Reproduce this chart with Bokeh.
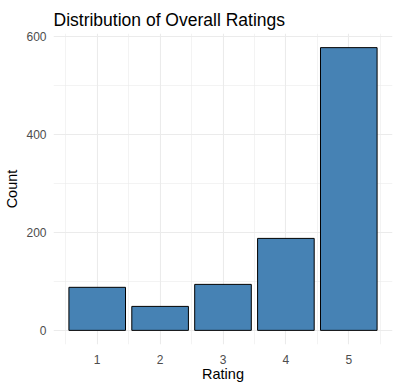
from bokeh.plotting import figure
from bokeh.models import Range1d, FixedTicker
from bokeh.embed import file_html
from bokeh.resources import INLINE

ratings = [1, 2, 3, 4, 5]
counts = [88, 49, 94, 188, 578]
x_ticks = [1, 2, 3, 4, 5]
x_minor = [0.5, 1.5, 2.5, 3.5, 4.5, 5.5]
y_ticks = [0, 200, 400, 600]
y_minor = [100, 300, 500]

bar_w = 0.9
xlo, xhi = min(ratings) - bar_w / 2, max(ratings) + bar_w / 2
xpad = (xhi - xlo) * 0.05
ylo, yhi = 0, max(counts)
ypad = (yhi - ylo) * 0.05

FONT = "Liberation Sans"

p = figure(width=400, height=388, output_backend="svg", toolbar_location=None,
           x_range=Range1d(xlo - xpad, xhi + xpad), y_range=Range1d(ylo - ypad, yhi + ypad),
           title="Distribution of Overall Ratings")
p.min_border_left = 53
p.min_border_right = 8
p.min_border_top = 33
p.min_border_bottom = 44
p.outline_line_color = None
p.background_fill_color = "white"
p.border_fill_color = "white"

p.title.text_font = FONT
p.title.text_font_size = "17.5px"
p.title.text_font_style = "normal"
p.title.text_color = "black"
p.title.align = "left"
p.title.offset = 0
p.title.standoff = 8

p.vbar(x=ratings, top=counts, bottom=0, width=bar_w, fill_color="#4682B4",
       line_color="black", line_width=1)

for ax in (p.xaxis[0], p.yaxis[0]):
    ax.axis_line_color = None
    ax.major_tick_line_color = None
    ax.minor_tick_line_color = None
    ax.major_tick_out = 0
    ax.major_tick_in = 0
    ax.minor_tick_out = 0
    ax.minor_tick_in = 0
    ax.major_label_text_font = FONT
    ax.major_label_text_font_size = "12px"
    ax.major_label_text_color = "#4D4D4D"
    ax.axis_label_text_font = FONT
    ax.axis_label_text_font_size = "14.5px"
    ax.axis_label_text_font_style = "normal"
    ax.axis_label_text_color = "black"

p.xaxis.axis_label = "Rating"
p.yaxis.axis_label = "Count"
p.xaxis.ticker = FixedTicker(ticks=x_ticks, minor_ticks=x_minor)
p.yaxis.ticker = FixedTicker(ticks=y_ticks, minor_ticks=y_minor)
p.xaxis.major_label_standoff = 10
p.yaxis.major_label_standoff = 7
p.xaxis.axis_label_standoff = -1
p.yaxis.axis_label_standoff = 3

for g in (p.xgrid[0], p.ygrid[0]):
    g.grid_line_color = "#EBEBEB"
    g.grid_line_width = 1.1
    g.minor_grid_line_color = "#EBEBEB"
    g.minor_grid_line_width = 0.6

open("out.html", "w").write(file_html(p, INLINE))
